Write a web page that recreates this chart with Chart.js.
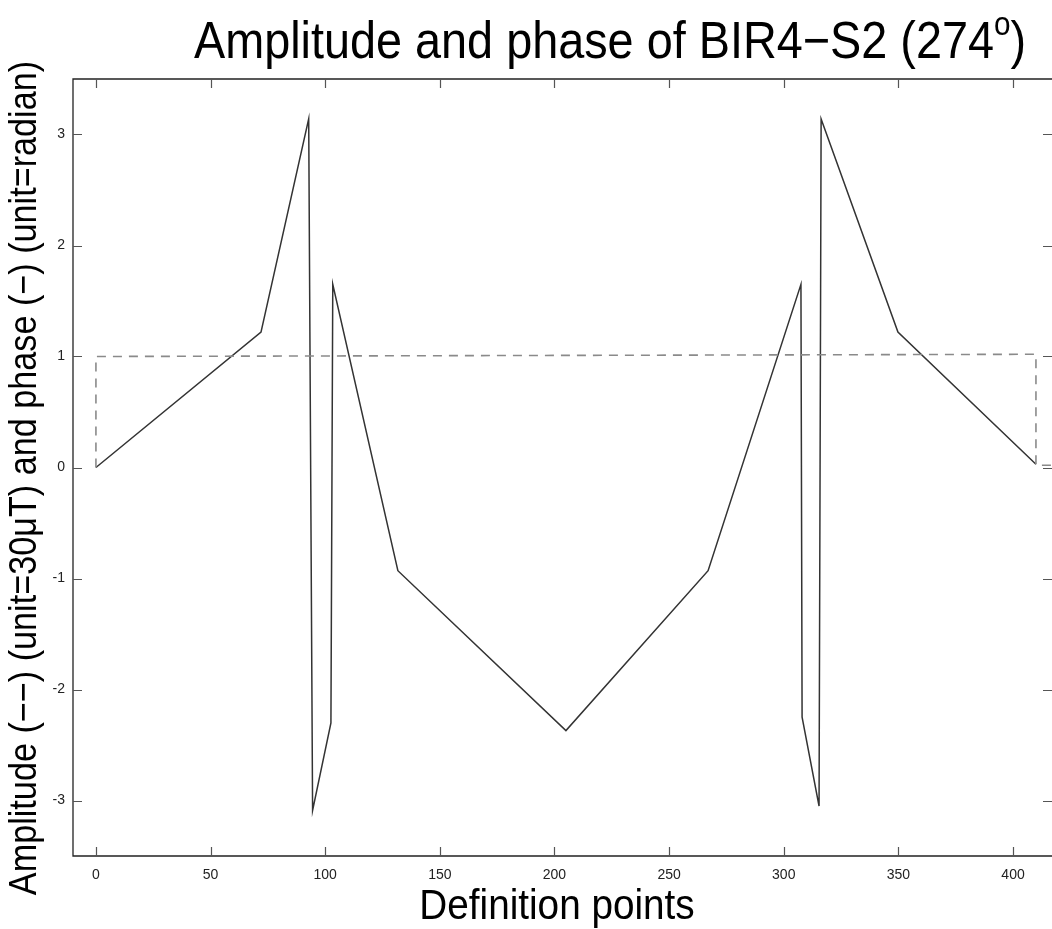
<!DOCTYPE html>
<html><head><meta charset="utf-8">
<script src="https://cdn.jsdelivr.net/npm/chart.js@4"></script>
<style>html,body{margin:0;padding:0;background:#fff;overflow:hidden}</style>
</head><body>
<canvas id="c" width="1052" height="929"></canvas>
<script>
const titleMain = "Amplitude and phase of BIR4\u2212S2 (274";
const titleSup = "o";
const titleEnd = ")";
const xTitle = "Definition points";
const yTitle = "Amplitude (\u2212\u2212) (unit=30\u03bcT) and phase (\u2212) (unit=radian)";
const xTicks = [0, 50, 100, 150, 200, 250, 300, 350, 400];
const yTicks = [-3, -2, -1, 0, 1, 2, 3];
const phaseX = [0, 72, 92.8, 94.5, 102.5, 103.3, 131.7, 205, 267, 307.5, 308, 315.4, 316.3, 349.8, 410];
const phaseY = [0, 1.22, 3.14, -3.09, -2.3, 1.65, -0.93, -2.37, -0.93, 1.65, -2.25, -3.05, 3.14, 1.22, 0.03];
const ampX = [0, 0, 410, 410, 417];
const ampY = [0, 1, 1.02, 0.02, 0.02];

const FONT = "'Liberation Sans', Arial, Helvetica, sans-serif";
const SQ = 0.9; // horizontal condensation of the big labels

function condensedText(ctx, parts, cx, cy, rot) {
  // parts: [{t, size, dy}] drawn in sequence, centred at (cx, cy), baseline middle-ish
  ctx.save();
  ctx.translate(cx, cy);
  if (rot) ctx.rotate(rot);
  ctx.scale(SQ, 1);
  let total = 0;
  parts.forEach(p => { ctx.font = p.size + "px " + FONT; p.w = ctx.measureText(p.t).width; total += p.w; });
  let x = -total / 2;
  ctx.textAlign = 'left';
  ctx.textBaseline = 'alphabetic';
  ctx.fillStyle = '#000';
  parts.forEach(p => { ctx.font = p.size + "px " + FONT; ctx.fillText(p.t, x, p.dy); x += p.w; });
  ctx.restore();
}

const framePlugin = {
  id: 'frame',
  afterDraw(chart) {
    const {ctx, chartArea: a, scales: {x, y}} = chart;
    ctx.save();
    ctx.strokeStyle = '#222';
    ctx.lineWidth = 1.3;
    ctx.beginPath();
    ctx.moveTo(a.right, a.top); ctx.lineTo(a.left, a.top);
    ctx.lineTo(a.left, a.bottom); ctx.lineTo(a.right, a.bottom);
    ctx.stroke();
    ctx.strokeStyle = '#555';
    ctx.lineWidth = 1.2;
    ctx.beginPath();
    x.ticks.forEach(t => {
      const px = Math.round(x.getPixelForValue(t.value)) + 0.5;
      ctx.moveTo(px, a.bottom); ctx.lineTo(px, a.bottom - 9);
      ctx.moveTo(px, a.top); ctx.lineTo(px, a.top + 9);
    });
    y.ticks.forEach(t => {
      const py = Math.round(y.getPixelForValue(t.value)) + 0.5;
      ctx.moveTo(a.left, py); ctx.lineTo(a.left + 9, py);
      ctx.moveTo(a.right, py); ctx.lineTo(a.right - 9, py);
    });
    ctx.stroke();
    ctx.restore();
    // title with superscript
    condensedText(ctx, [
      {t: titleMain, size: 52, dy: 0},
      {t: titleSup, size: 33, dy: -23},
      {t: titleEnd, size: 52, dy: 0}
    ], 610, 58, 0);
    // axis titles
    condensedText(ctx, [{t: xTitle, size: 43, dy: 0}], 557, 919, 0);
    condensedText(ctx, [{t: yTitle, size: 38, dy: 0}], 36, 478, -Math.PI / 2);
  }
};

new Chart(document.getElementById('c'), {
  type: 'line',
  data: {
    datasets: [
      {
        label: 'Amplitude',
        data: ampX.map((v, i) => ({x: v, y: ampY[i]})),
        borderColor: '#8a8a8a',
        borderWidth: 1.6,
        borderDash: [9, 7],
        pointRadius: 0,
        tension: 0,
        fill: false
      },
      {
        label: 'Phase',
        data: phaseX.map((v, i) => ({x: v, y: phaseY[i]})),
        borderColor: '#333333',
        borderWidth: 1.5,
        pointRadius: 0,
        tension: 0,
        fill: false
      }
    ]
  },
  options: {
    responsive: false,
    animation: false,
    layout: {padding: {top: 79, right: 0, left: 0, bottom: 0}},
    plugins: {legend: {display: false}, title: {display: false}, tooltip: {enabled: false}},
    scales: {
      x: {
        type: 'linear', min: -10, max: 417,
        afterBuildTicks: s => { s.ticks = xTicks.map(v => ({value: v})); },
        afterFit: s => { s.height = 73; },
        grid: {display: false, drawTicks: false},
        border: {display: false},
        ticks: {font: {size: 14, family: FONT}, color: '#222', padding: 11, maxRotation: 0, autoSkip: false},
        title: {display: false}
      },
      y: {
        type: 'linear', min: -3.5, max: 3.5,
        afterBuildTicks: s => { s.ticks = yTicks.map(v => ({value: v})); },
        afterFit: s => { s.width = 73; },
        grid: {display: false, drawTicks: false},
        border: {display: false},
        ticks: {font: {size: 14, family: FONT}, color: '#222', padding: 8, autoSkip: false},
        title: {display: false}
      }
    }
  },
  plugins: [framePlugin]
});
</script>
</body></html>
